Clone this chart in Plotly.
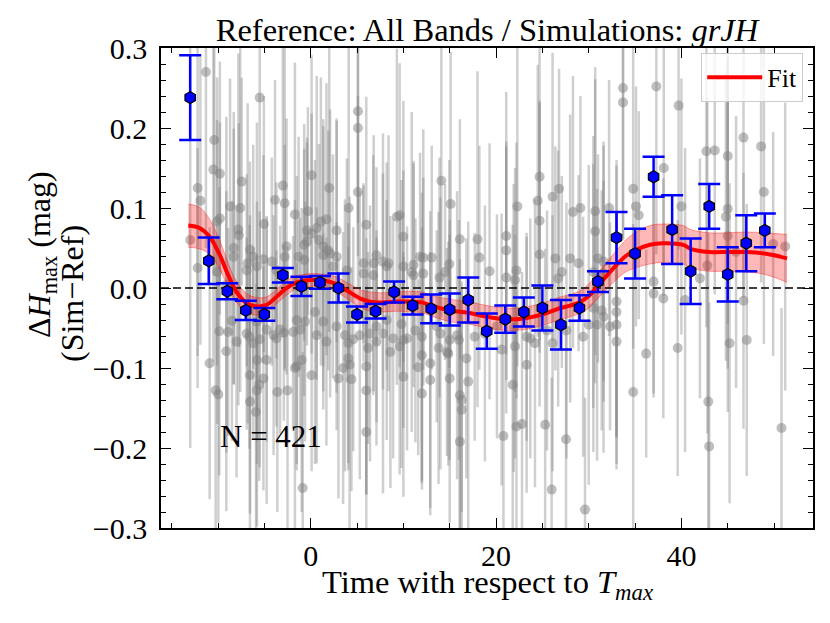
import plotly.graph_objects as go

# ---------------- data ----------------
# binned means (blue hexagons)
bin_t = [-13, -11, -9, -7, -5, -3, -1, 1, 3, 5, 7, 9, 11, 13, 15, 17, 19, 21, 23, 25,
         27, 29, 31, 33, 35, 37, 39, 41, 43, 45, 47, 49]
bin_d = [0.238, 0.034, -0.004, -0.028, -0.033, 0.016, 0.002, 0.007, 0.000, -0.033,
         -0.029, -0.005, -0.022, -0.026, -0.027, -0.015, -0.054, -0.039, -0.030, -0.025,
         -0.046, -0.025, 0.008, 0.063, 0.043, 0.139, 0.073, 0.021, 0.102, 0.017,
         0.056, 0.072]
bin_e = [0.053, 0.029, 0.010, 0.012, 0.008, 0.009, 0.012, 0.008, 0.018, 0.010,
         0.009, 0.013, 0.011, 0.018, 0.020, 0.028, 0.022, 0.017, 0.018, 0.028,
         0.031, 0.016, 0.013, 0.032, 0.031, 0.025, 0.043, 0.041, 0.028, 0.034,
         0.035, 0.021]

# fit curve with uncertainty band
fit_t = [-13.2, -12, -10.9, -9.8, -8.9, -8.0, -6.9, -5.8, -4.75, -3.7, -2.6, -1.5, 0,
         1.5, 2.5, 3.9, 5.3, 6.4, 7.8, 9.3, 10.5, 12, 13, 15, 17, 19, 21, 23, 25, 26,
         27, 28, 29, 30, 31, 32, 33, 34, 35, 36.6, 38, 40.2, 41, 43, 45, 47, 49, 51.4]
fit_d = [0.078, 0.075, 0.064, 0.041, 0.016, -0.005, -0.019, -0.023, -0.021, -0.011,
         0.000, 0.007, 0.010, 0.009, 0.006, -0.003, -0.013, -0.017, -0.018, -0.017,
         -0.017, -0.018, -0.022, -0.028, -0.031, -0.036, -0.039, -0.038, -0.033, -0.029,
         -0.025, -0.022, -0.018, -0.010, 0.003, 0.016, 0.029, 0.040, 0.047, 0.054,
         0.056, 0.054, 0.049, 0.045, 0.045, 0.045, 0.043, 0.037]
fit_e = [0.027, 0.026, 0.022, 0.018, 0.015, 0.013, 0.012, 0.011, 0.010, 0.009,
         0.009, 0.008, 0.008, 0.008, 0.009, 0.010, 0.011, 0.012, 0.012, 0.012,
         0.013, 0.013, 0.013, 0.014, 0.014, 0.014, 0.014, 0.014, 0.014, 0.014,
         0.014, 0.014, 0.014, 0.015, 0.016, 0.017, 0.018, 0.020, 0.022, 0.024,
         0.024, 0.024, 0.024, 0.024, 0.024, 0.025, 0.026, 0.030]

# individual objects (grey), read region by region
gA_t = [-11.3, -5.5, -10.4, -10.5, -9.8, -12.2, -11.9, -8.7, -7.6, -7.45,
        -3.0, -3.85, -2.8, -9.8, -10.1, -5.05, -7.8, -7.75, -8.3, -6.55,
        -6.8, -12.2, -5.1, -10.1, -8.3, -6.2, -6.9, -5.8, -1.3, -0.7,
        -4.2, -3.7, -9.1, -2.6, -2.8, -1.7, -13.0,
        -8.5, -9.86, -8.9, -9.1, -10.9, -6.6, -6.2, -5.5, -4.0, -3.7,
        -4.75, -5.8, -6.55, -5.1, -10.25, -9.96, -5.55, -5.8, -3.6, -2.5,
        -6.55, -5.9, -1.7, -3.3, -2.9, -5.8, -6.9, -8.0, -4.75]
gA_d = [0.270, 0.238, 0.185, 0.148, 0.143, 0.125, 0.109, 0.102, 0.100, 0.133,
        0.128, 0.110, 0.106, 0.087, 0.083, 0.080, 0.073, 0.066, 0.050, 0.048,
        0.031, 0.025, 0.036, 0.020, 0.039, 0.039, 0.022, 0.027, 0.039, 0.035,
        0.033, 0.022, 0.004, 0.052, 0.039, 0.092, 0.060,
        -0.041, -0.054, -0.055, -0.079, -0.094, -0.061, -0.069, -0.064, -0.059, -0.063,
        -0.090, -0.090, -0.109, -0.113, -0.128, -0.133, -0.121, -0.128, -0.130, -0.128,
        -0.142, -0.155, -0.100, -0.052, -0.056, -0.042, -0.057, -0.067, -0.052]
gA_e = [0.22, 0.20, 0.17, 0.24, 0.14, 0.21, 0.18, 0.16, 0.23, 0.13,
        0.19, 0.15, 0.21, 0.12, 0.18, 0.16, 0.22, 0.14, 0.17, 0.11,
        0.20, 0.15, 0.13, 0.19, 0.16, 0.14, 0.12, 0.18, 0.15, 0.17,
        0.13, 0.11, 0.21, 0.16, 0.14, 0.19, 0.26, 0.15, 0.18, 0.13,
        0.20, 0.17, 0.14, 0.12, 0.16, 0.15, 0.11, 0.18, 0.13, 0.20,
        0.14, 0.19, 0.16, 0.12, 0.17, 0.15, 0.18, 0.14, 0.16, 0.21,
        0.13, 0.11, 0.15, 0.12, 0.17, 0.14]

gB_t = [0.1, 2.0, 5.1, 5.1, 5.1, 4.1, -0.3, 1.7, -0.4, 0.1,
        0.65, 2.8, 6.0, 5.7, 1.1, -0.4, 0.9, 1.9, 2.8, 3.9,
        5.7, 6.8, 9.3, 9.6, 11.8, -0.7, 1.36, 1.36, 2.4, 2.1,
        7.1, 7.8, 8.2, 6.75, 10.0, 10.9, 11.1, 10.0, 8.4, 11.1,
        -1.5, -0.6, -1.9, -1.15, 0.46, 1.36, 0.65, 1.7, 3.7, 4.06,
        4.6, 5.3, 6.2, 6.4, 7.1, 7.8, 8.9, 8.6, 10.0, 10.4,
        12.0, 12.0, -1.5, -0.97, 0.1, 3.0, 3.5, 4.06, 4.2, 6.0,
        6.0, 6.0, 10.0, 12.0, -0.86, 4.4, 11.6, 9.6, 2.8, 8.2,
        9.8, 11.3, 7.1]
gB_d = [0.141, 0.125, 0.221, 0.200, 0.120, 0.100, 0.096, 0.086, 0.072, 0.068,
        0.075, 0.072, 0.079, 0.031, 0.083, 0.058, 0.060, 0.047, 0.039, 0.022,
        0.018, 0.031, 0.089, 0.091, 0.039, 0.054, 0.052, 0.041, 0.027, 0.043,
        0.041, 0.033, 0.027, 0.016, 0.027, 0.020, 0.016, 0.064, 0.031, 0.029,
        -0.040, -0.042, -0.055, -0.052, -0.030, -0.042, -0.059, -0.067, -0.059, -0.069,
        -0.064, -0.059, -0.075, -0.057, -0.067, -0.057, -0.063, -0.080, -0.065, -0.063,
        -0.061, -0.084, -0.098, -0.090, -0.109, -0.113, -0.100, -0.088, -0.096, -0.098,
        -0.128, -0.180, -0.111, -0.132, -0.250, -0.114, -0.099, -0.073, -0.048, -0.040,
        -0.045, -0.053, -0.048]
gB_e = [0.15, 0.18, 0.14, 0.16, 0.12, 0.20, 0.13, 0.17, 0.11, 0.15,
        0.19, 0.14, 0.16, 0.10, 0.18, 0.13, 0.12, 0.15, 0.17, 0.14,
        0.11, 0.16, 0.21, 0.19, 0.13, 0.12, 0.15, 0.17, 0.14, 0.18,
        0.11, 0.16, 0.13, 0.15, 0.12, 0.20, 0.14, 0.17, 0.16, 0.13,
        0.18, 0.15, 0.12, 0.14, 0.19, 0.11, 0.16, 0.13, 0.17, 0.15,
        0.14, 0.18, 0.12, 0.16, 0.13, 0.20, 0.15, 0.17, 0.11, 0.14,
        0.18, 0.16, 0.13, 0.19, 0.12, 0.15, 0.17, 0.14, 0.21, 0.16,
        0.13, 0.18, 0.15, 0.12, 0.17, 0.14, 0.11, 0.16, 0.13, 0.15,
        0.18, 0.14, 0.12]

gC_t = [14.1, 15.1, 16.1, 18.0, 18.2, 19.3, 21.1, 21.1, 22.3, 24.7,
        24.5, 24.7, 24.7, 26.1, 13.06, 12.15, 12.15, 14.96, 13.9, 21.1,
        22.05, 14.5, 22.2,
        15.8, 16.0, 17.7, 13.8, 14.85, 12.9, 12.9, 15.0, 16.8, 17.0,
        16.1, 16.3, 16.3, 16.1, 20.8, 22.2, 22.8, 20.6, 22.05, 23.3,
        21.8, 23.7, 24.2, 25.3, 26.0, 26.1, 14.7, 14.0, 15.0, 13.6,
        18.8, 20.1, 21.9, 23.3, 25.5]
gC_d = [0.134, 0.105, 0.061, 0.061, 0.038, 0.021, 0.065, 0.047, 0.102, 0.139,
        0.109, 0.084, 0.042, 0.114, 0.038, 0.018, 0.038, 0.030, 0.013, 0.013,
        0.010, 0.020, 0.022,
        -0.059, -0.065, -0.061, -0.075, -0.082, -0.094, -0.115, -0.113, -0.088, -0.117,
        -0.134, -0.140, -0.152, -0.192, -0.185, -0.173, -0.170, -0.077, -0.073, -0.096,
        -0.121, -0.063, -0.069, -0.171, -0.252, -0.069, -0.080, -0.057, -0.065, -0.048,
        -0.057, -0.048, -0.050, -0.061, -0.053]
gC_e = [0.17, 0.19, 0.15, 0.21, 0.14, 0.16, 0.18, 0.13, 0.20, 0.22,
        0.17, 0.15, 0.19, 0.18, 0.14, 0.12, 0.16, 0.13, 0.15, 0.17,
        0.14, 0.11, 0.16, 0.18, 0.15, 0.13, 0.17, 0.14, 0.19, 0.16,
        0.18, 0.15, 0.20, 0.17, 0.14, 0.16, 0.18, 0.13, 0.15, 0.19,
        0.17, 0.14, 0.16, 0.20, 0.15, 0.18, 0.22, 0.14, 0.16, 0.13,
        0.17, 0.15, 0.12, 0.16, 0.14, 0.18, 0.13, 0.15]

gD_t = [33.7, 33.7, 37.3, 39.7, 38.1, 26.8, 28.3, 29.1, 30.7, 32.2,
        34.8, 35.1, 35.4, 30.7, 26.4, 27.1, 26.7, 31.0, 31.6, 30.5,
        37.0, 28.0, 28.9, 31.6,
        37.0, 38.05, 33.0, 33.0, 33.0, 33.0, 30.5, 31.4, 30.0, 30.9,
        36.2, 39.6, 34.8, 27.55, 29.6, 27.6, 29.4, 31.6, 32.3]
gD_d = [0.250, 0.232, 0.252, 0.228, 0.150, 0.124, 0.095, 0.100, 0.096, 0.100,
        0.124, 0.102, 0.091, 0.071, 0.037, 0.020, 0.012, 0.037, 0.033, 0.020,
        0.008, 0.037, 0.031, 0.018,
        -0.007, -0.013, -0.017, -0.030, -0.046, -0.067, -0.025, -0.028, -0.046, -0.046,
        -0.082, -0.075, -0.130, -0.189, -0.277, -0.053, -0.061, -0.036, -0.048]
gD_e = [0.19, 0.17, 0.21, 0.18, 0.16, 0.15, 0.17, 0.14, 0.18, 0.16,
        0.20, 0.15, 0.13, 0.19, 0.14, 0.12, 0.16, 0.13, 0.15, 0.17,
        0.14, 0.18, 0.11, 0.16, 0.13, 0.15, 0.17, 0.19, 0.14, 0.16,
        0.18, 0.15, 0.20, 0.17, 0.13, 0.16, 0.21, 0.18, 0.14, 0.16,
        0.15, 0.17, 0.13]

gE_t = [46.7, 42.7, 43.6, 45.0, 48.6, 48.9, 40.0, 45.0, 44.8, 45.0,
        45.9, 42.8, 42.0, 49.9, 51.2,
        40.4, 46.7, 45.2, 47.05, 42.9, 43.0, 50.8]
gE_d = [0.188, 0.171, 0.172, 0.165, 0.177, 0.120, 0.102, 0.099, 0.089, 0.065,
        0.045, 0.028, 0.012, 0.055, 0.052,
        -0.015, -0.016, -0.069, -0.065, -0.142, -0.198, -0.175]
gE_e = [0.20, 0.22, 0.18, 0.21, 0.17, 0.19, 0.16, 0.20, 0.18, 0.22,
        0.17, 0.21, 0.15, 0.14, 0.18, 0.19, 0.16, 0.20, 0.17, 0.21,
        0.18, 0.15]

grey_t = gA_t + gB_t + gC_t + gD_t + gE_t
grey_d = gA_d + gB_d + gC_d + gD_d + gE_d
grey_e = gA_e + gB_e + gC_e + gD_e + gE_e

x_ticks = [0, 20, 40]
x_minor = [-15, -10, -5, 5, 10, 15, 25, 30, 35, 45, 50]
y_ticks = [-0.3, -0.2, -0.1, 0.0, 0.1, 0.2, 0.3]
y_ticktext = ["\u22120.3", "\u22120.2", "\u22120.1", "0.0", "0.1", "0.2", "0.3"]
y_minor = [round(-0.3 + 0.02 * i, 2) for i in range(31)]

n_obj = 421
FONT = "Liberation Serif"

# ---------------- figure ----------------
fig = go.Figure()

fig.add_trace(go.Scatter(
    x=grey_t, y=grey_d, mode="markers",
    marker=dict(size=10, color="rgba(128,128,128,0.5)", line=dict(width=0)),
    error_y=dict(type="data", array=grey_e, visible=True,
                 color="rgba(128,128,128,0.38)", thickness=2.5, width=0),
    showlegend=False, hoverinfo="skip"))

upper = [d + e for d, e in zip(fit_d, fit_e)]
lower = [d - e for d, e in zip(fit_d, fit_e)]
fig.add_trace(go.Scatter(x=fit_t, y=upper, mode="lines", line=dict(color="rgba(255,0,0,0.35)", width=1, shape="spline"),
                         showlegend=False, hoverinfo="skip"))
fig.add_trace(go.Scatter(x=fit_t, y=lower, mode="lines", line=dict(color="rgba(255,0,0,0.35)", width=1, shape="spline"),
                         fill="tonexty", fillcolor="rgba(255,0,0,0.28)", showlegend=False, hoverinfo="skip"))

fig.add_trace(go.Scatter(x=[-16.15, 54.2], y=[0, 0], mode="lines",
                         line=dict(color="black", width=1.5, dash="8px,4px"),
                         showlegend=False, hoverinfo="skip"))

fig.add_trace(go.Scatter(x=fit_t, y=fit_d, mode="lines", name="Fit",
                         line=dict(color="red", width=4, shape="spline")))

fig.add_trace(go.Scatter(
    x=bin_t, y=bin_d, mode="markers",
    marker=dict(symbol="hexagon", size=12, color="blue", line=dict(color="black", width=1.2)),
    error_y=dict(type="data", array=bin_e, visible=True, color="blue", thickness=2.5, width=11),
    showlegend=False))

axis_common = dict(showgrid=False, zeroline=False, showline=True, linecolor="black", linewidth=1.5,
                   mirror="ticks", ticks="inside", ticklen=10, tickwidth=1.2, tickcolor="black",
                   automargin=False,
                   tickfont=dict(family=FONT, size=30, color="black"))

fig.update_xaxes(range=[-16.15, 54.2], tickvals=x_ticks, ticktext=[str(v) for v in x_ticks],
                 minor=dict(tickvals=x_minor, ticks="inside", ticklen=5, tickwidth=1, tickcolor="black"),
                 **axis_common)
fig.update_yaxes(range=[-0.3, 0.3], tickvals=y_ticks, ticktext=y_ticktext,
                 minor=dict(tickvals=y_minor, ticks="inside", ticklen=5, tickwidth=1, tickcolor="black"),
                 ticklabelstandoff=6, **axis_common)

fig.update_layout(
    width=830, height=623,
    margin=dict(l=161, r=17, t=48, b=95, autoexpand=False),
    plot_bgcolor="white", paper_bgcolor="white",
    font=dict(family=FONT, color="black"),
    title=dict(text="Reference: All Bands / Simulations: <i>grJH</i>",
               x=0.5, xref="paper", xanchor="center", y=1 - 30 / 623, yref="container", yanchor="middle",
               font=dict(family=FONT, size=32.5, color="black")),
    legend=dict(x=0.985, y=0.99, xanchor="right", yanchor="top",
                bgcolor="rgba(255,255,255,0.8)", bordercolor="#cccccc", borderwidth=1,
                font=dict(family=FONT, size=26, color="black"), itemwidth=55),
    annotations=[
        dict(text="Time with respect to <i>T<sub>max</sub></i>", xref="paper", yref="paper",
             x=0.5, y=-0.118, xanchor="center", yanchor="middle", showarrow=False,
             font=dict(family=FONT, size=32.5)),
        dict(text="\u0394<i>H</i><sub>max</sub> (mag)", xref="paper", yref="paper",
             x=(41 - 161) / 652, y=(528 - 255) / 480, xanchor="center", yanchor="middle",
             textangle=-90, showarrow=False, font=dict(family=FONT, size=32)),
        dict(text="(Sim\u2212Ref)", xref="paper", yref="paper",
             x=(72 - 161) / 652, y=(528 - 294) / 480, xanchor="center", yanchor="middle",
             textangle=-90, showarrow=False, font=dict(family=FONT, size=32)),
        dict(text=f"N = {n_obj}", x=-10.0, y=-0.186, xref="x", yref="y",
             xanchor="left", yanchor="middle", showarrow=False, font=dict(family=FONT, size=31)),
    ],
)

fig.write_html("out.html", config={"displayModeBar": False},
               post_script="document.body.style.margin='0px';")
